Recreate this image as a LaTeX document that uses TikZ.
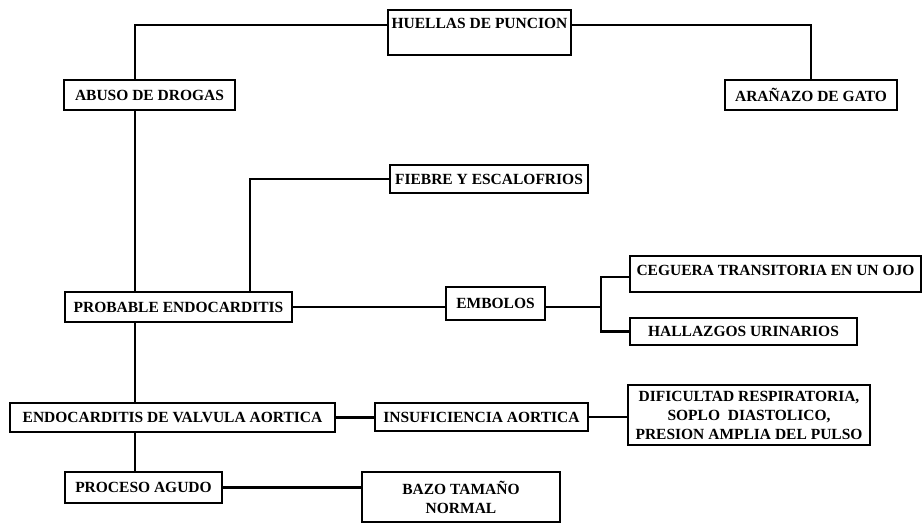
\documentclass[tikz,border=0pt]{standalone}
\usepackage{fontspec}
\setmainfont{Liberation Serif}
\usetikzlibrary{positioning}

\begin{document}
\begin{tikzpicture}[x=1pt, y=-1pt,
    box/.style={draw, line width=1.9pt, fill=white, font=\fontsize{15.5}{19}\selectfont\bfseries, inner xsep=2pt, inner ysep=0pt, align=center},
    link/.style={line width=2.6pt}]
  \useasboundingbox[fill=white] (0,0) rectangle (922,523);
  \node[box, minimum width=183pt, text height=18pt, text depth=27pt] (hp) at (479.5,32.5) {HUELLAS DE PUNCION};
  \node[box, minimum width=171pt, minimum height=30pt] (ad) at (149.5,95) {ABUSO DE DROGAS};
  \node[box, minimum width=172pt, minimum height=30pt] (ag) at (811,95) {ARAÑAZO DE GATO};
  \node[box, minimum width=198pt, minimum height=28pt] (fe) at (489,179) {FIEBRE Y ESCALOFRIOS};
  \node[box, minimum width=227pt, minimum height=30pt] (pe) at (178.5,307) {PROBABLE ENDOCARDITIS};
  \node[box, minimum width=99pt, minimum height=33pt] (em) at (495.5,303.5) {EMBOLOS};
  \node[box, minimum width=291pt, text height=19pt, text depth=17pt] (ce) at (775.5,274) {CEGUERA TRANSITORIA EN UN OJO};
  \node[box, minimum width=227pt, minimum height=27pt] (hu) at (743.5,331.5) {HALLAZGOS URINARIOS};
  \node[box, minimum width=325pt, minimum height=29pt] (ev) at (172.5,417.5) {ENDOCARDITIS DE VALVULA AORTICA};
  \node[box, minimum width=213pt, minimum height=28pt] (ia) at (481.5,417) {INSUFICIENCIA AORTICA};
  \node[box, minimum width=242pt, minimum height=60pt] (dr) at (749,415) {DIFICULTAD RESPIRATORIA,\\SOPLO\ \ DIASTOLICO,\\PRESION AMPLIA DEL PULSO};
  \node[box, minimum width=157pt, minimum height=31pt] (pa) at (143.5,487.5) {PROCESO AGUDO};
  \node[box, minimum width=198pt, minimum height=50pt] (bz) at (461,497) {BAZO TAMAÑO\\NORMAL};
  % trunk and branches
  \coordinate (tr) at ([xshift=-14.5pt]ad.north);
  \coordinate (fk) at ([xshift=-28pt]hu.west);
  \draw[link] ([yshift=3pt]hp.base west) -| (tr);
  \draw[link] ([yshift=3pt]hp.base east) -| (ag.north);
  \draw[link] (tr |- ad.south) -- (tr |- pe.north);
  \draw[link] (tr |- pe.south) -- (tr |- ev.north);
  \draw[link] (tr |- ev.south) -- (tr |- pa.north);
  \draw[link] (fe.west) -| ([xshift=71.5pt]pe.north);
  \draw[link] (pe.east) -- (pe.east -| em.west);
  \draw[link] (em.east |- pe.east) -- (pe.east -| fk);
  \draw[link] ([yshift=-2pt]ce.base west) -| (fk) -- (hu.west);
  \draw[link] (ev.east) -- (ev.east -| ia.west);
  \draw[link] (ia.east) -- (ia.east -| dr.west);
  \draw[link] (pa.east) -- (pa.east -| bz.west);
\end{tikzpicture}
\end{document}
